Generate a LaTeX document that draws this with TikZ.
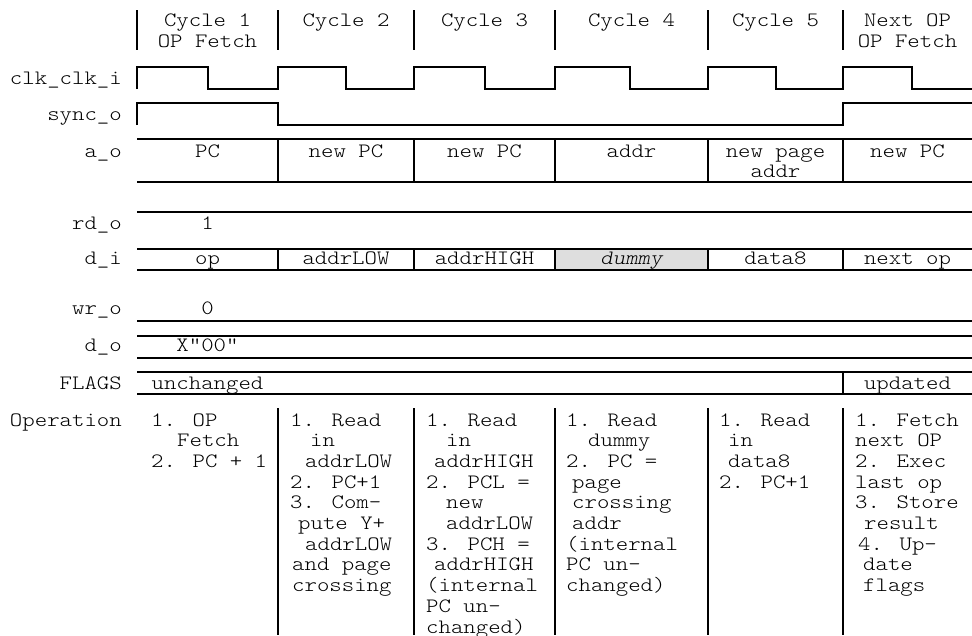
\documentclass[tikz,border=0pt]{standalone}
\usepackage{fontspec}
\usepackage{tikz}
\newfontfamily\tdfont{lmmonolt10-regular}[Extension=.otf, ItalicFont=lmmonolt10-oblique, FakeStretch=1.16]
\newcommand{\tdtext}{\tdfont\fontsize{20.4pt}{20.7pt}\selectfont}

\begin{document}
\begin{tikzpicture}[
  x=1pt, y=-1pt,
  font=\tdtext,
  sig/.style={line width=1.7pt},
  hdrsep/.style={line width=1.2pt},
  opsep/.style={line width=2.3pt},
  lbl/.style={anchor=base east, inner sep=0pt},
  val/.style={anchor=base, inner sep=0pt, align=center},
  optext/.style={anchor=base west, inner sep=0pt, align=left}
]
\useasboundingbox (0,0) rectangle (972,635);
% multi-line nodes sit on the baseline of their last line

% header
\foreach \x in {137,278,414,555,708,843}
  \draw[hdrsep] (\x,10) -- (\x,50);
\node[val] (cyc1) at (207.5,47.2) {Cycle 1\\OP Fetch};
\node[val] (cyc2) at (346,26.5) {Cycle 2};
\node[val] (cyc3) at (484.5,26.5) {Cycle 3};
\node[val] (cyc4) at (631.5,26.5) {Cycle 4};
\node[val] (cyc5) at (775.5,26.5) {Cycle 5};
\node[val] (cycn) at (907.5,47.2) {Next OP\\OP Fetch};

% signal names
\node[lbl] (l_clk) at (122,84) {clk\_clk\_i};
\node[lbl] (l_sync) at (122,120) {sync\_o};
\node[lbl] (l_addr) at (122,157) {a\_o};
\node[lbl] (l_rd) at (122,229) {rd\_o};
\node[lbl] (l_di) at (122,264) {d\_i};
\node[lbl] (l_wr) at (122,314) {wr\_o};
\node[lbl] (l_do) at (122,351) {d\_o};
\node[lbl] (l_flags) at (122,389) {FLAGS};
\node[lbl] (l_op) at (122,426) {Operation};

% clock and sync
\draw[sig] (137,89) -- (137,67) -- (208,67) -- (208,89) -- (278,89) -- (278,67)
  -- (346,67) -- (346,89) -- (414,89) -- (414,67) -- (485,67) -- (485,89)
  -- (555,89) -- (555,67) -- (630,67) -- (630,89) -- (708,89) -- (708,67)
  -- (776,67) -- (776,89) -- (843,89) -- (843,67) -- (912,67) -- (912,89) -- (972,89);
\draw[sig] (137,125) -- (137,103) -- (278,103) -- (278,125) -- (843,125)
  -- (843,103) -- (972,103);

% address bus
\draw[sig] (137,139) -- (972,139);
\draw[sig] (137,182) -- (972,182);
\foreach \x in {278,414,555,708,843}
  \draw[sig] (\x,139) -- (\x,182);
\node[val] (a1) at (207.5,157) {PC};
\node[val] (a2) at (346,157) {new PC};
\node[val] (a3) at (484.5,157) {new PC};
\node[val] (a4) at (631.5,157) {addr};
\node[val] (a5) at (775.5,177.7) {new page\\addr};
\node[val] (a6) at (907.5,157) {new PC};

% read strobe
\draw[sig] (137,212) -- (972,212);
\node[val] (rd1) at (207.5,229) {1};

% data in
\fill[black!13] (555,249) rectangle (708,270);
\draw[sig] (137,249) -- (972,249);
\draw[sig] (137,270) -- (972,270);
\foreach \x in {278,414,555,708,843}
  \draw[sig] (\x,249) -- (\x,270);
\node[val] (d1) at (207.5,264) {op};
\node[val] (d2) at (346,264) {addrLOW};
\node[val] (d3) at (484.5,264) {addrHIGH};
\node[val] (d4) at (631.5,264) {\itshape dummy};
\node[val] (d5) at (775.5,264) {data8};
\node[val] (d6) at (907.5,264) {next op};

% write strobe and data out
\draw[sig] (137,321) -- (972,321);
\node[val] (wr1) at (207.5,314) {0};
\draw[sig] (137,336) -- (972,336);
\draw[sig] (137,358) -- (972,358);
\node[val] (do1) at (207.5,351) {X”00”};

% flags
\draw[sig] (137,372) -- (972,372);
\draw[sig] (137,394) -- (972,394);
\draw[sig] (843,372) -- (843,394);
\node[val] (f1) at (207.5,389) {unchanged};
\node[val] (f6) at (907.5,389) {updated};

% operations
\foreach \x in {278,414,708,843}
  \draw[opsep] (\x,408) -- (\x,635);
\draw[hdrsep] (555,408) -- (555,635);
\node[optext] (op1) at (151,467.4) {1. OP\\\hspace*{26pt}Fetch\\2. PC + 1};
\node[optext] (op2) at (290,591.6) {1. Read\\\hspace*{20pt}in\\\hspace*{15pt}addrLOW\\2. PC+1\\3. Com-\\\hspace*{8pt}pute Y+\\\hspace*{15pt}addrLOW\\\hspace*{2pt}and page\\\hspace*{2pt}crossing};
\node[optext] (op3) at (426,633) {1. Read\\\hspace*{20pt}in\\\hspace*{8pt}addrHIGH\\2. PCL =\\\hspace*{20pt}new\\\hspace*{20pt}addrLOW\\3. PCH =\\\hspace*{8pt}addrHIGH\\(internal\\PC un-\\changed)};
\node[optext] (op4) at (566,591.6) {1. Read\\\hspace*{22pt}dummy\\2. PC =\\\hspace*{6pt}page\\\hspace*{6pt}crossing\\\hspace*{6pt}addr\\(internal\\PC un-\\changed)};
\node[optext] (op5) at (719,488.1) {1. Read\\\hspace*{9pt}in\\\hspace*{9pt}data8\\2. PC+1};
\node[optext] (op6) at (855,591.6) {1. Fetch\\next OP\\2. Exec\\last op\\3. Store\\\hspace*{9pt}result\\\hspace*{3pt}4. Up-\\\hspace*{8pt}date\\\hspace*{8pt}flags};
\end{tikzpicture}
\end{document}
